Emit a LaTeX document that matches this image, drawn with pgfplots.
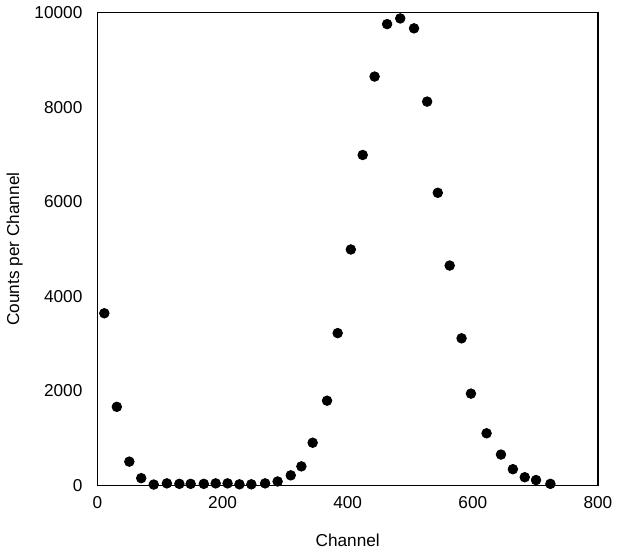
\documentclass[border=0pt]{standalone}
\usepackage{fontspec}
\setmainfont{Liberation Sans}
\usepackage{pgfplots}
\pgfplotsset{compat=1.18}
\begin{document}
\begin{tikzpicture}
\begin{axis}[
  scale only axis,
  width=250pt, height=236pt,
  xmin=0, xmax=800, ymin=0, ymax=10000,
  xtick={0,200,...,800}, ytick={0,2000,...,10000},
  major tick length=0pt,
  /pgf/number format/assume math mode=true,
  scaled y ticks=false,
  yticklabel style={/pgf/number format/1000 sep={}, xshift=-4pt},
  xticklabel style={yshift=-2pt},
  tick label style={font=\fontsize{8.6}{10}\selectfont},
  label style={font=\fontsize{8.6}{10}\selectfont},
  xlabel={Channel}, ylabel={Counts per Channel},
  xlabel style={yshift=-6pt},
  ylabel style={yshift=-1pt},
  axis line style={line width=0.7pt},
  clip=false,
]
\addplot[only marks, mark=*, mark size=2.4pt, black] coordinates {
(11,3640) (31,1660) (51,500) (70,150) (90,15) (111,40) (131,30) (149,30) (170,30)
(189,40) (208,40) (227,20) (246,20) (268,40) (288,80) (309,210) (326,400) (344,900)
(367,1790) (384,3220) (405,4990) (424,6990) (443,8650) (463,9760) (484,9880)
(506,9670) (527,8120) (544,6190) (563,4650) (582,3110) (597,1940) (622,1100)
(645,650) (664,340) (683,170) (701,110) (724,30)
};
\end{axis}
\end{tikzpicture}
\end{document}
